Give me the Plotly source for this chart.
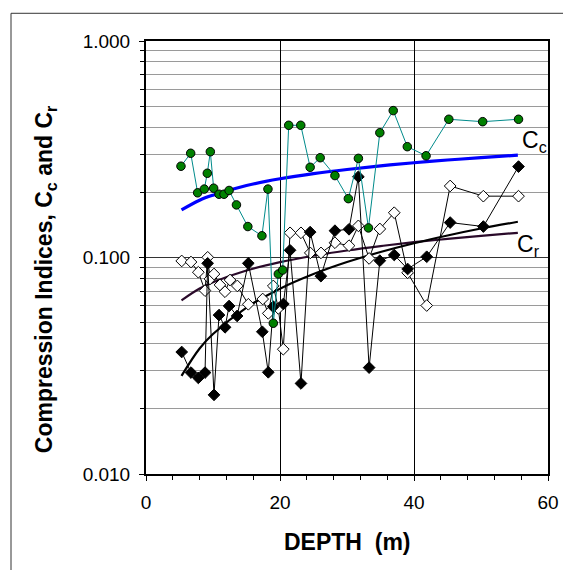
import plotly.graph_objects as go

# ---- Data ----
cc_depth = [5.22, 6.67, 7.71, 8.7, 9.15, 9.6, 10.1, 10.9, 11.64, 12.4, 13.5, 15.2, 17.3, 18.2,
            19.0, 19.75, 20.4, 21.3, 23.1, 24.5, 26.0, 28.2, 30.2, 31.7, 33.2, 34.9, 36.9, 39.0,
            41.8, 45.2, 50.25, 55.6]
cc_vals = [0.264, 0.303, 0.199, 0.207, 0.245, 0.308, 0.209, 0.196, 0.196, 0.204, 0.175, 0.139,
           0.126, 0.207, 0.0497, 0.0839, 0.0875, 0.408, 0.408, 0.261, 0.289, 0.239, 0.187, 0.287,
           0.137, 0.377, 0.477, 0.325, 0.295, 0.435, 0.424, 0.435]

open_depth = [5.33, 6.72, 7.81, 8.81, 9.21, 9.55, 10.15, 11.04, 11.79, 12.54, 13.63, 15.27, 17.42,
              18.25, 19.0, 19.75, 20.49, 21.5, 23.13, 24.52, 26.12, 28.2, 30.3, 31.7, 33.3, 34.9,
              37.05, 39.05, 41.9, 45.4, 50.35, 55.6]
open_vals = [0.0964, 0.0953, 0.0855, 0.0703, 0.1002, 0.0796, 0.0839, 0.0747, 0.0695, 0.0787, 0.0739,
             0.0608, 0.0643, 0.0552, 0.0739, 0.0582, 0.0377, 0.130, 0.130, 0.105, 0.105, 0.117,
             0.1134, 0.140, 0.099, 0.1355, 0.161, 0.085, 0.060, 0.214, 0.192, 0.192]

fill_depth = [5.33, 6.72, 7.81, 8.81, 9.2, 10.15, 10.9, 11.8, 12.4, 13.6, 15.27, 17.36, 18.25,
              19.0, 20.5, 21.5, 23.13, 24.5, 26.1, 28.2, 30.3, 31.7, 33.3, 34.9, 37.05, 39.05,
              41.9, 45.4, 50.35, 55.6]
fill_vals = [0.0366, 0.0294, 0.0278, 0.0294, 0.094, 0.0232, 0.0542, 0.0476, 0.0597, 0.0537, 0.094,
             0.0454, 0.0295, 0.0593, 0.061, 0.108, 0.0262, 0.131, 0.082, 0.133, 0.135, 0.236,
             0.031, 0.0967, 0.1027, 0.0885, 0.1008, 0.145, 0.139, 0.263]

# trend curves, values
fit_depth = [5.3, 8, 10, 15, 20, 25, 30, 35, 40, 45, 50, 55.5]
fit_cc = [0.166, 0.184, 0.194, 0.215, 0.231, 0.244, 0.255, 0.265, 0.274, 0.282, 0.289, 0.297]
fit_cr = [0.0634, 0.0719, 0.0769, 0.0871, 0.0952, 0.1019, 0.1077, 0.1129, 0.1177, 0.1219, 0.1259, 0.130]
fit_b = [0.0284, 0.0380, 0.0443, 0.0587, 0.0718, 0.0839, 0.0953, 0.106, 0.1164, 0.1264, 0.1361, 0.1462]

x_ticks = [0, 20, 40, 60]

FONT = "Arial, Liberation Sans, sans-serif"

fig = go.Figure()

fig.add_trace(go.Scatter(x=fit_depth, y=fit_cc, mode="lines",
                         line=dict(color="#0000ff", width=3.2, shape="spline"), showlegend=False))
fig.add_trace(go.Scatter(x=fit_depth, y=fit_cr, mode="lines",
                         line=dict(color="#2a0a2a", width=2.2, shape="spline"), showlegend=False))
fig.add_trace(go.Scatter(x=fit_depth, y=fit_b, mode="lines",
                         line=dict(color="#000000", width=2.2, shape="spline"), showlegend=False))

fig.add_trace(go.Scatter(x=open_depth, y=open_vals, mode="lines+markers",
                         line=dict(color="black", width=1),
                         marker=dict(symbol="diamond", size=9, color="white",
                                     line=dict(color="black", width=1)),
                         showlegend=False))
fig.add_trace(go.Scatter(x=fill_depth, y=fill_vals, mode="lines+markers",
                         line=dict(color="black", width=1),
                         marker=dict(symbol="diamond", size=9, color="black",
                                     line=dict(color="black", width=1)),
                         showlegend=False))
fig.add_trace(go.Scatter(x=cc_depth, y=cc_vals, mode="lines+markers",
                         line=dict(color="#008b8b", width=1),
                         marker=dict(symbol="circle", size=8.5, color="#008000",
                                     line=dict(color="black", width=1)),
                         showlegend=False))

fig.update_layout(
    width=563, height=570,
    margin=dict(l=146, r=15, t=41, b=96, autoexpand=False),
    paper_bgcolor="white", plot_bgcolor="white",
    font=dict(family=FONT, color="black"),
    xaxis=dict(range=[0, 60], tickvals=x_ticks, showline=True, linecolor="black", linewidth=2,
               mirror=True, ticks="outside", ticklen=5, tickcolor="black", automargin=False,
               showgrid=True, gridcolor="black", gridwidth=1, zeroline=False,
               tickfont=dict(size=19, family=FONT), ticklabelstandoff=5,
               minor=dict(dtick=4, ticks="outside", ticklen=4, tickcolor="black", showgrid=False)),
    yaxis=dict(type="log", range=[-2, 0], dtick=1, tickformat=".3f", showline=True,
               linecolor="black", linewidth=2, mirror=True, ticks="outside", ticklen=5,
               tickcolor="black", showgrid=True, gridcolor="#333333", gridwidth=1, automargin=False,
               zeroline=False, tickfont=dict(size=19, family=FONT), ticklabelstandoff=5,
               minor=dict(dtick="D1", ticks="outside", ticklen=4, tickcolor="black",
                          showgrid=True, gridcolor="#9a9a9a", gridwidth=1)),
    shapes=[dict(type="rect", xref="paper", yref="paper", x0=-0.3358, x1=1.08, y0=-0.3, y1=1.064,
                 line=dict(color="#333333", width=1), fillcolor="rgba(0,0,0,0)", layer="below")],
    annotations=[
        dict(text="C<sub>c</sub>", xref="paper", yref="paper", x=0.930, y=0.767,
             xanchor="left", yanchor="middle", showarrow=False, font=dict(size=23, family=FONT)),
        dict(text="C<sub>r</sub>", xref="paper", yref="paper", x=0.918, y=0.5266,
             xanchor="left", yanchor="middle", showarrow=False, font=dict(size=23, family=FONT)),
        dict(text="Compression Indices, C<sub>c</sub> and C<sub>r</sub>", xref="paper", yref="paper",
             x=-0.2512, y=0.45, xanchor="center", yanchor="middle", textangle=-90,
             showarrow=False, font=dict(size=23, family=FONT, weight="bold")),
        dict(text="DEPTH\u00a0 (m)", xref="paper", yref="paper", x=0.5, y=-0.156,
             xanchor="center", yanchor="middle", showarrow=False,
             font=dict(size=23, family=FONT, weight="bold")),
    ],
)

fig.write_html("out.html", config={"displayModeBar": False},
               post_script="document.body.style.margin='0';document.body.style.overflow='hidden';")
